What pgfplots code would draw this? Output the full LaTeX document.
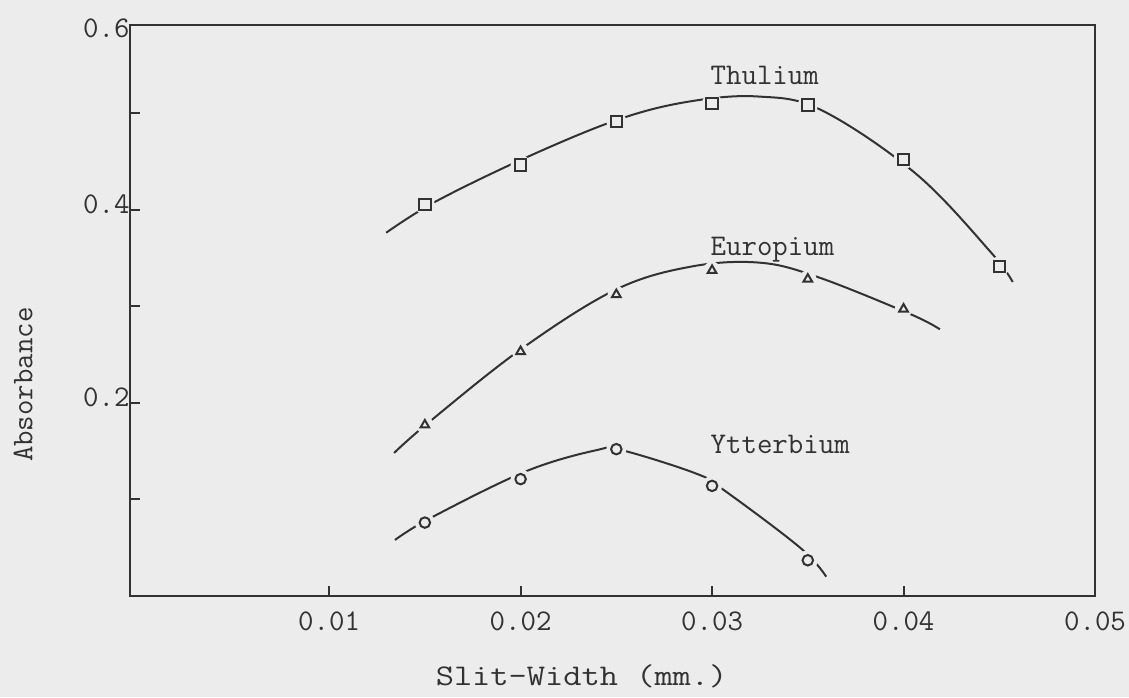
\documentclass[border=0pt]{standalone}
\usepackage{pgfplots}
\pgfplotsset{compat=1.18}
\usepackage{graphicx}
\definecolor{bg}{RGB}{236,236,236}
\definecolor{ink}{RGB}{50,50,50}
\newcommand{\tw}{\fontsize{12}{14}\selectfont\ttfamily}

\pgfplotstableread{
x y
0.015 0.405
0.020 0.446
0.025 0.491
0.030 0.510
0.035 0.508
0.040 0.452
0.045 0.341
}\tmmarks
\pgfplotstableread{
x y
0.01298 0.376
0.01563 0.409
0.02053 0.456
0.02522 0.494
0.02887 0.512
0.03240 0.517
0.03570 0.503
0.04065 0.437
0.04455 0.356
0.04570 0.325
}\tmcurve
\pgfplotstableread{
x y
0.015 0.177
0.020 0.253
0.025 0.312
0.030 0.337
0.035 0.328
0.040 0.297
}\eumarks
\pgfplotstableread{
x y
0.01339 0.148
0.01522 0.180
0.02006 0.256
0.02496 0.317
0.02892 0.341
0.03250 0.345
0.03554 0.330
0.04033 0.292
0.04190 0.276
}\eucurve
\pgfplotstableread{
x y
0.015 0.076
0.020 0.121
0.025 0.152
0.030 0.114
0.035 0.037
}\ybmarks
\pgfplotstableread{
x y
0.01344 0.058
0.01532 0.081
0.02027 0.129
0.02397 0.151
0.02527 0.151
0.02913 0.127
0.03059 0.110
0.03460 0.050
0.03596 0.020
}\ybcurve

\begin{document}
\begin{tikzpicture}
\fill[bg] (-52pt,-40.4pt) rectangle (399.6pt,238.4pt);
\useasboundingbox (-52pt,-40.4pt) rectangle (399.6pt,238.4pt);
\begin{axis}[
  at={(0,0)}, anchor=south west,
  scale only axis, width=386pt, height=228.4pt,
  xmin=-0.0004, xmax=0.05, ymin=0, ymax=0.591,
  axis line style={ink, line width=0.8pt},
  every tick/.style={ink, line width=0.8pt},
  tick align=inside, major tick length=4pt,
  xtick pos=bottom, ytick pos=left,
  xtick={0.01,0.02,0.03,0.04,0.05},
  xticklabels={0.01,0.02,0.03,0.04,0.05},
  ytick={0.1,0.2,0.3,0.4,0.5},
  yticklabels={,0.2,,0.4,},
  extra y ticks={0.591}, extra y tick labels={0.6},
  extra y tick style={yticklabel style={yshift=-3.2pt}},
  scaled ticks=false,
  ticklabel style={font=\tw, text=ink},
  xticklabel style={anchor=base, inner sep=0pt, yshift=-13.6pt},
  yticklabel style={anchor=base east, inner sep=0pt, yshift=-1.6pt},
  clip=false,
]
% curves
\addplot[ink, line width=0.8pt, smooth, tension=0.6] table {\tmcurve};
\addplot[ink, line width=0.8pt, smooth, tension=0.6] table {\eucurve};
\addplot[ink, line width=0.8pt, smooth, tension=0.6] table {\ybcurve};
% halos (gaps in the line around the marks)
\addplot[only marks, mark=*, mark size=3.8pt, color=bg] table {\tmmarks};
\addplot[only marks, mark=*, mark size=3.3pt, color=bg] table {\eumarks};
\addplot[only marks, mark=*, mark size=3.8pt, color=bg] table {\ybmarks};
% marks
\addplot[only marks, mark=square, mark size=2.3pt, mark options={ink, line width=0.8pt}] table {\tmmarks};
\addplot[only marks, mark=triangle, mark size=2pt, mark options={ink, line width=0.8pt}] table {\eumarks};
\addplot[only marks, mark=o, mark size=2.1pt, mark options={ink, line width=0.8pt}] table {\ybmarks};
% labels
\node[anchor=base west, inner sep=0pt, text=ink, font=\tw] at (axis cs:0.0299,0.529) {Thulium};
\node[anchor=base west, inner sep=0pt, text=ink, font=\tw] at (axis cs:0.0299,0.352) {Europium};
\node[anchor=base west, inner sep=0pt, text=ink, font=\tw] at (axis cs:0.0299,0.148) {Ytterbium};
\node[rotate=90, anchor=center, inner sep=0pt, text=ink, font=\tw] at ([xshift=-42.8pt]rel axis cs:0,0.37) {Absorbance};
\node[anchor=base, inner sep=0pt, text=ink, font=\tw] at ([yshift=-35.6pt]rel axis cs:0.468,0) {\scalebox{1.18}[1]{Slit-Width (mm.)}};
\end{axis}
\end{tikzpicture}
\end{document}
